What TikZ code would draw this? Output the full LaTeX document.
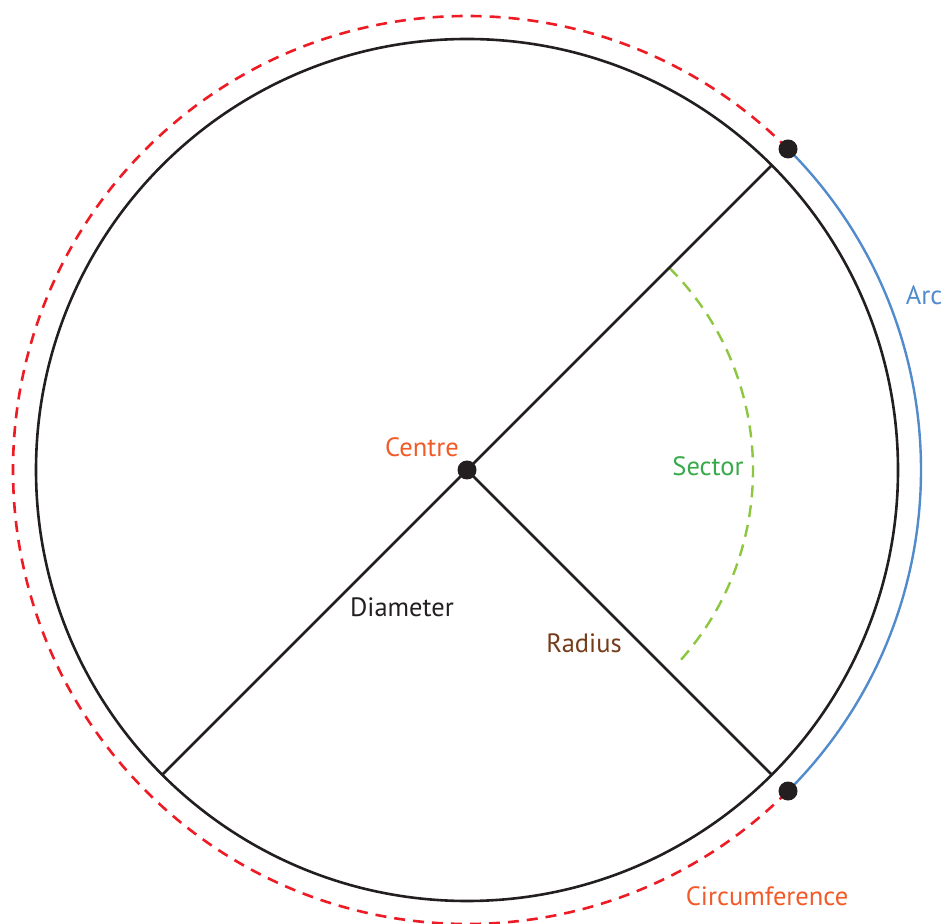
\documentclass[tikz,border=0pt]{standalone}
\usepackage{fontspec}
\setmainfont{PT Sans}
\definecolor{ink}{RGB}{35,31,32}
\definecolor{orng}{RGB}{241,90,41}
\definecolor{grn}{RGB}{57,170,74}
\definecolor{lgrn}{RGB}{141,198,63}
\definecolor{brn}{RGB}{117,60,25}
\definecolor{blu}{RGB}{82,139,204}
\definecolor{rd}{RGB}{237,28,36}
\begin{document}
\begin{tikzpicture}[x=1pt,y=1pt,
  lbl/.style={anchor=base,inner sep=0pt,font=\fontsize{26.5}{30}\selectfont},
  blk/.style={draw=ink,line width=2.6pt},
  dotstyle/.style={circle,fill=ink,inner sep=0pt,minimum size=19pt}]
\useasboundingbox (0,0) rectangle (944,923);
\coordinate (C) at (467,453);
% circles
\draw[blk] (C) circle[radius=431];
\draw[rd,line width=2.6pt,dash pattern=on 11pt off 8pt] ([shift={(45:454)}]C) arc[start angle=45,end angle=315,radius=454];
\draw[blu,line width=2.4pt] ([shift={(-45:454)}]C) arc[start angle=-45,end angle=45,radius=454];
\draw[lgrn,line width=2.4pt,dash pattern=on 12pt off 8pt] ([shift={(45:286)}]C) arc[start angle=45,end angle=-43,radius=286];
% lines
\coordinate (D1) at ([shift={(45:431)}]C);
\coordinate (D2) at ([shift={(225:431)}]C);
\coordinate (R1) at ([shift={(-45:431)}]C);
\draw[blk] (D1) -- (D2);
\draw[blk] (C) -- (R1);
% dots
\node[dotstyle] (centre) at (C) {};
\node[dotstyle] (top) at ([shift={(45:454)}]C) {};
\node[dotstyle] (bot) at ([shift={(-45:454)}]C) {};
% labels
\node[lbl,text=orng] (tcentre) at (422,466) {Centre};
\node[lbl,text=grn] (tsector) at (708,447) {Sector};
\node[lbl,text=ink] (tdiam) at (402,306) {Diameter};
\node[lbl,text=brn] (trad) at (584,270) {Radius};
\node[lbl,text=blu] (tarc) at (924,618) {Arc};
\node[lbl,text=orng] (tcirc) at (767,18) {Circumference};
\end{tikzpicture}
\end{document}
